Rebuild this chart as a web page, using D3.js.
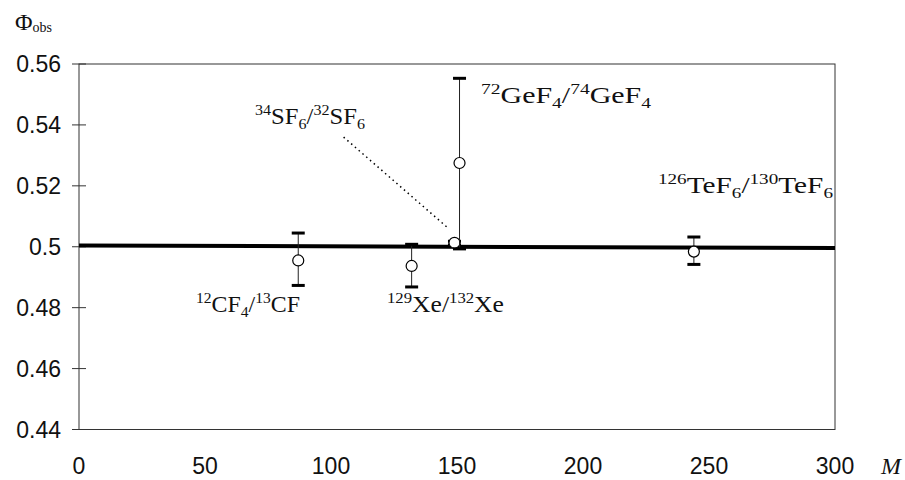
<!DOCTYPE html>
<meta charset="utf-8">
<body style="margin:0;background:#fff">
<style>
  .tick-label { font-family: "Liberation Sans", Arial, sans-serif; font-size: 23px; fill: #111; }
  .lbl { font-family: "Liberation Serif", "Times New Roman", serif; fill: #111; }
  .frame { fill: none; stroke: #333; stroke-width: 1; }
</style>
<svg width="905" height="480"></svg>
<script src="https://d3js.org/d3.v7.min.js"></script>
<script>

// axis ticks
var xTicks = [0, 50, 100, 150, 200, 250, 300];
var yTicks = [0.56, 0.54, 0.52, 0.5, 0.48, 0.46, 0.44];
var yTickLabels = ["0.56", "0.54", "0.52", "0.5", "0.48", "0.46", "0.44"];

// measured points (isotope pairs)
var pairs = ["CF4", "Xe", "SF6", "GeF4", "TeF6"];
var mass = [87, 132, 149, 151, 244];
var phi = [0.4955, 0.4937, 0.5013, 0.5275, 0.4984];
var errLow = [0.4873, 0.4868, 0.5006, 0.4993, 0.4942];
var errHigh = [0.5045, 0.5008, 0.5018, 0.5553, 0.5032];

// reference line and leader for the SF6 label
var refLine = [[0, 0.5004], [300, 0.4996]];
var leader = [[105, 0.536], [146.5, 0.5061]];

// label text pieces: [text, "sup"|"sub"|""]
var labels = {
  CF4: [["12", "sup"], ["CF", ""], ["4", "sub"], ["/", ""], ["13", "sup"], ["CF", ""]],
  Xe: [["129", "sup"], ["Xe", ""], ["/", ""], ["132", "sup"], ["Xe", ""]],
  SF6: [["34", "sup"], ["SF", ""], ["6", "sub"], ["/", ""], ["32", "sup"], ["SF", ""], ["6", "sub"]],
  GeF4: [["72", "sup"], ["GeF", ""], ["4", "sub"], ["/", ""], ["74", "sup"], ["GeF", ""], ["4", "sub"]],
  TeF6: [["126", "sup"], ["TeF", ""], ["6", "sub"], ["/", ""], ["130", "sup"], ["TeF", ""], ["6", "sub"]]
};

var svg = d3.select("svg");

var x = d3.scaleLinear().domain([0, 300]).range([79, 835]);
var y = d3.scaleLinear().domain([0.44, 0.56]).range([429.5, 64]);

// frame
svg.append("rect").attr("class", "frame")
    .attr("x", x(0)).attr("y", y(0.56))
    .attr("width", x(300) - x(0)).attr("height", y(0.44) - y(0.56));

// y ticks cross the axis
svg.selectAll(".ytick").data(yTicks).enter().append("line")
    .attr("x1", x(0) - 7).attr("x2", x(0) + 7)
    .attr("y1", function(d) { return y(d); }).attr("y2", function(d) { return y(d); })
    .attr("stroke", "#333");

svg.selectAll(".ylab").data(yTicks).enter().append("text")
    .attr("class", "tick-label")
    .attr("x", 61)
    .attr("y", function(d) { return y(d) + 8; })
    .attr("text-anchor", "end")
    .text(function(d, i) { return yTickLabels[i]; });

svg.selectAll(".xlab").data(xTicks).enter().append("text")
    .attr("class", "tick-label")
    .attr("x", function(d) { return x(d); })
    .attr("y", 474)
    .attr("text-anchor", "middle")
    .text(function(d) { return d; });

// axis titles
var ph = svg.append("text").attr("class", "lbl").attr("x", 15).attr("y", 30);
ph.append("tspan").attr("font-size", 24).text("Φ");
ph.append("tspan").attr("font-size", 14).attr("dy", 2).text("obs");

svg.append("text").attr("class", "lbl")
    .attr("x", 881).attr("y", 474)
    .attr("font-size", 24).attr("font-style", "italic")
    .text("M");

// reference line at 0.5
svg.append("path")
    .attr("d", d3.line().x(function(d) { return x(d[0]); }).y(function(d) { return y(d[1]); })(refLine))
    .attr("stroke", "#000").attr("stroke-width", 4).attr("fill", "none");

// leader line
svg.append("path")
    .attr("d", d3.line().x(function(d) { return x(d[0]); }).y(function(d) { return y(d[1]); })(leader))
    .attr("stroke", "#000").attr("stroke-width", 1.5).attr("stroke-dasharray", "1.5,3.5").attr("fill", "none");

// error bars
var g = svg.append("g");
pairs.forEach(function(p, i) {
  var cx = x(mass[i]);
  g.append("line").attr("x1", cx).attr("x2", cx)
      .attr("y1", y(errLow[i])).attr("y2", y(errHigh[i]))
      .attr("stroke", "#222").attr("stroke-width", 1);
  [errLow[i], errHigh[i]].forEach(function(v) {
    g.append("rect").attr("x", cx - 6.5).attr("y", y(v) - 1.5)
        .attr("width", 13).attr("height", 3).attr("fill", "#000");
  });
  g.append("circle").attr("cx", cx).attr("cy", y(phi[i])).attr("r", 5.5)
      .attr("fill", "#fff").attr("stroke", "#000").attr("stroke-width", 1.2);
});

// text labels, stretched to the widths seen in the scan
function addLabel(parts, lx, ly, w) {
  var t = svg.append("text").attr("class", "lbl").attr("x", lx).attr("y", ly)
      .attr("textLength", w).attr("lengthAdjust", "spacingAndGlyphs");
  var cur = 0;
  parts.forEach(function(p) {
    var off = p[1] == "sup" ? -9 : p[1] == "sub" ? 5 : 0;
    t.append("tspan")
        .attr("font-size", p[1] ? 15 : 23)
        .attr("dy", off - cur)
        .text(p[0]);
    cur = off;
  });
}
addLabel(labels.CF4, 196, 312, 104);
addLabel(labels.Xe, 387, 312, 117);
addLabel(labels.SF6, 255, 124, 110);
addLabel(labels.GeF4, 481, 103, 170);
addLabel(labels.TeF6, 658, 193, 175);

</script>
</body>
